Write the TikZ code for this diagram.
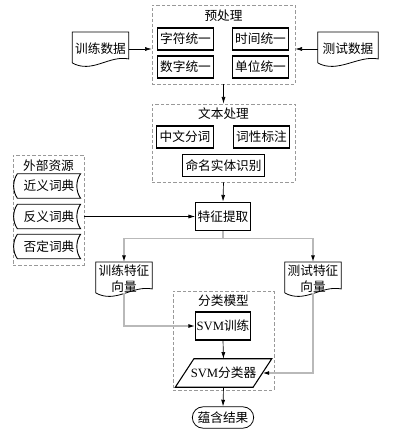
\documentclass[tikz,border=0pt]{standalone}
\usepackage{fontspec}
\setmainfont{Liberation Serif}
\newfontfamily\cjk{Noto Sans CJK SC}
\usetikzlibrary{arrows.meta,positioning,fit,calc,shapes.misc}

\begin{document}
\begin{tikzpicture}[
      x=0.75pt, y=-0.75pt, % one unit = one pixel of the layout
      every node/.style={font=\cjk\fontsize{9.5}{12}\selectfont, inner sep=0pt},
      box/.style={
          draw,
          line width=0.8pt,
          minimum width=42.5pt,
          minimum height=16.5pt
      },
      grp/.style={draw=gray!80, dash pattern=on 2.5pt off 1.5pt, line width=0.5pt},
      doc/.style={align=center, minimum width=42pt, minimum height=25pt},
      dict/.style={minimum width=47pt, minimum height=18pt},
      arr/.style={-{Latex[length=5pt,width=3pt]}, line width=0.5pt},
      garr/.style={-{Latex[length=5pt,width=3pt,color=black]}, draw=gray!55, line width=0.9pt}
  ]
      \useasboundingbox (0,0) rectangle (402,431);

      % Preprocessing
      \coordinate (pretl) at (152,5);
      \coordinate (prebr) at (295,84);
      \node (pre) [grp, fit=(pretl) (prebr)] {};
      \node (pretitle) at (223.5,16) {预处理};
      \node (char) [box] at (185.5,39) {字符统一};
      \node (time) [box] at (260.5,39) {时间统一};
      \node (num)  [box] at (185.5,67) {数字统一};
      \node (unit) [box] at (260.5,67) {单位统一};

      % Input data
      \node (train) [doc] at (100.5,49) {训练数据};
      \node (test) [doc, minimum width=45pt] at (348,49) {测试数据};

      % Text processing
      \coordinate (txttl) at (152,104);
      \coordinate (txtbr) at (295,182);
      \node (txt) [grp, fit=(txttl) (txtbr)] {};
      \node (txttitle) at (223.5,114) {文本处理};
      \node (seg) [box] at (185,137) {中文分词};
      \node (pos) [box] at (261.5,137) {词性标注};
      \node (ner) [box, minimum width=62pt, minimum height=17pt] at (223.5,165.5) {命名实体识别};

      % Feature extraction
      \node (feat) [box, minimum width=41pt, minimum height=21.5pt] at (223,216.5) {特征提取};

      % External resources
      \coordinate (exttl) at (13,155);
      \coordinate (extbr) at (84,265);
      \node (ext) [grp, fit=(exttl) (extbr)] {};
      \node (exttitle) at (48.5,166) {外部资源};
      \node (syn) [dict] at (49,186) {近义词典};
      \node (ant) [dict] at (49,216.5) {反义词典};
      \node (neg) [dict] at (49,246.5) {否定词典};

      % Feature vectors
      \node (trainvec) [doc] at (124,279) {训练特征\\向量};
      \node (testvec) [doc] at (313,279) {测试特征\\向量};

      % Classification model
      \coordinate (clstl) at (173,291);
      \coordinate (clsbr) at (274,390);
      \node (cls) [grp, fit=(clstl) (clsbr)] {};
      \node (clstitle) at (223.5,301) {分类模型};
      \node (svmtrain) [box, minimum width=41pt, minimum height=21pt] at (223,326) {{\rmfamily SVM}训练};
      \node (clf) [minimum width=58pt, minimum height=21pt] at (223.5,373) {{\rmfamily SVM}分类器};
      \node (res) [draw, rounded rectangle, line width=0.6pt, minimum width=46pt, minimum height=16pt] at (223,417.5) {蕴含结果};

      % Shapes drawn around the plain nodes
      \foreach \n in {train,test,trainvec,testvec} {
          \draw[line width=0.6pt] ([shift={(0,-3)}]\n.south west) -- (\n.north west) -- (\n.north east)
              -- ([shift={(0,-7)}]\n.south east) .. controls +(-20,-4) and +(20,11) .. ([shift={(0,-3)}]\n.south west);
      }
      \foreach \n in {syn,ant,neg} {
          \draw[line width=0.7pt] (\n.north west) -- (\n.north east)
              .. controls +(-5,7) and +(-5,-7) .. (\n.south east) -- (\n.south west)
              .. controls +(-5,-7) and +(-5,7) .. (\n.north west);
      }
      \draw[line width=0.8pt] ([xshift=-7pt]clf.south west) -- ([xshift=-7pt]clf.south east)
          -- ([xshift=7pt]clf.north east) -- ([xshift=7pt]clf.north west) -- cycle;

      % Arrows
      \draw [arr] (train.east) -- (train.east -| pre.west);
      \draw [arr] (test.west) -- (test.west -| pre.east);
      \draw [arr] (pre.south) -- (txt.north);
      \draw [arr] (txt.south) -- (feat.north);
      \draw [arr] (ant.east -| ext.east) -- (feat.west);
      \draw [garr] (feat.south) -- ++(0,7) -| (trainvec.north);
      \draw [garr] (feat.south) -- ++(0,7) -| (testvec.north);
      \draw [garr] ([yshift=2.5pt]trainvec.south) |- (svmtrain.west);
      \draw [garr] ([yshift=2.5pt]testvec.south) |- (clf.east);
      \draw [arr] (svmtrain.south) -- (clf.north);
      \draw [arr] (clf.south) -- (res.north);
  \end{tikzpicture}
\end{document}
